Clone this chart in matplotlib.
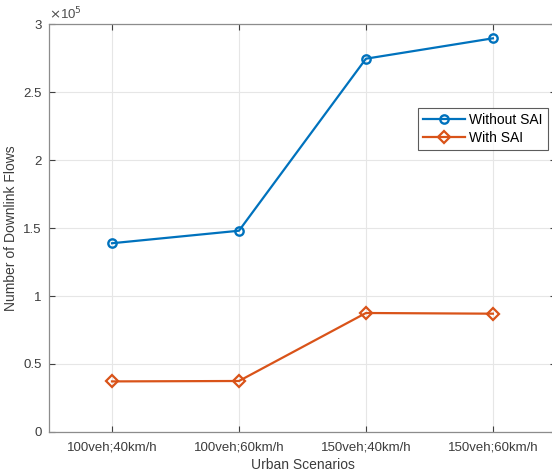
import numpy as np
import matplotlib.pyplot as plt
from matplotlib.ticker import FuncFormatter

plt.rcParams['font.family'] = ['Liberation Sans', 'DejaVu Sans']

scenarios = ['100veh;40km/h', '100veh;60km/h', '150veh;40km/h', '150veh;60km/h']
without_sai = [1.388e5, 1.480e5, 2.745e5, 2.895e5]
with_sai = [0.372e5, 0.375e5, 0.875e5, 0.870e5]

blue = '#0072BD'
orange = '#D95319'

fig = plt.figure(figsize=(5.52, 4.73), dpi=100)
ax = fig.add_axes([0.0879, 0.0867, 0.920, 0.8625])

x = np.arange(1, len(scenarios) + 1)
ax.plot(x, without_sai, '-o', color=blue, lw=1.6, ms=6, mfc='none', mew=1.7,
        label='Without SAI')
ax.plot(x, with_sai, '-D', color=orange, lw=1.6, ms=6.5, mfc='none', mew=1.6,
        label='With SAI')

ax.set_xlim(0.5, 4.5)
ax.set_ylim(0, 3e5)
ax.set_xticks(x)
ax.set_xticklabels(scenarios)
ax.set_yticks(np.arange(0, 3.01e5, 0.5e5))
ax.yaxis.set_major_formatter(FuncFormatter(lambda v, p: f'{v / 1e5:g}'))
ax.text(0.0, 1.004, r'$\times$10$^5$', transform=ax.transAxes, fontsize=9.5,
        color='#4d4d4d', ha='left', va='bottom')

ax.grid(True, color='#e6e6e6', lw=0.8)
ax.set_axisbelow(True)
for s in ax.spines.values():
    s.set_color('#8c8c8c')
    s.set_linewidth(0.9)
ax.tick_params(direction='in', length=4, width=0.8, color='#404040',
               labelsize=9.5, labelcolor='#3c3c3c', top=True, right=True)
ax.tick_params(axis='x', pad=7)
ax.tick_params(axis='y', pad=5)

ax.set_xlabel('Urban Scenarios', fontsize=10, color='#3c3c3c', labelpad=3)
ax.set_ylabel('Number of Downlink Flows', fontsize=10, color='#3c3c3c', labelpad=4)

leg = ax.legend(loc='upper left', bbox_to_anchor=(0.727, 0.795), fontsize=10,
                frameon=True, fancybox=False, borderpad=0.4, handlelength=3.0,
                handletextpad=0.3, labelspacing=0.25, borderaxespad=0)
leg.get_frame().set_edgecolor('#333333')
leg.get_frame().set_linewidth(0.8)

fig.savefig('out.png', dpi=100)
